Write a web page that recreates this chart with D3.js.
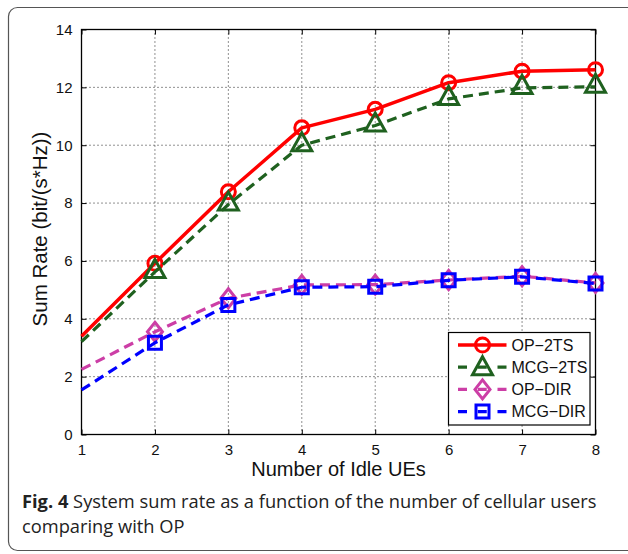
<!DOCTYPE html>
<html>
<head>
<meta charset="utf-8">
<script src="https://cdn.jsdelivr.net/npm/d3@7"></script>
<style>
  html, body { margin: 0; padding: 0; background: #fff; }
  svg { display: block; }
</style>
</head>
<body>
<svg id="fig" width="628" height="554"></svg>
<script>
// Number of idle UEs (x) and sum rate per scheme (bit/(s*Hz))
const idleUEs = [1, 2, 3, 4, 5, 6, 7, 8];
const op2ts  = [3.40, 5.92, 8.39, 10.60, 11.24, 12.16, 12.56, 12.61];
const mcg2ts = [3.21, 5.62, 7.95, 10.00, 10.68, 11.60, 11.98, 12.02];
const opDir  = [2.25, 3.55, 4.71, 5.17, 5.18, 5.34, 5.47, 5.24];
const mcgDir = [1.54, 3.17, 4.48, 5.09, 5.11, 5.33, 5.45, 5.22];
const seriesNames = ["OP\u22122TS", "MCG\u22122TS", "OP\u2212DIR", "MCG\u2212DIR"];
const xTicks = [1, 2, 3, 4, 5, 6, 7, 8];
const yTicks = [0, 2, 4, 6, 8, 10, 12, 14];
const markerStart = 2;   // markers are shown from this x onward

const xLabel = "Number of Idle UEs";
const yLabel = "Sum Rate (bit/(s*Hz))";
const captionBold = "Fig. 4";
const captionLines = [
  " System sum rate as a function of the number of cellular users",
  "comparing with OP"
];

const styles = [
  { color: "#ff0000", dash: null,   width: 3.5, marker: "circle" },
  { color: "#1f611f", dash: "10,6", width: 3.2, marker: "triangle" },
  { color: "#cc3ea6", dash: "10,6", width: 3.2, marker: "diamond" },
  { color: "#0000ff", dash: "10,6", width: 3.2, marker: "square" }
];
const seriesValues = [op2ts, mcg2ts, opDir, mcgDir];

const svg = d3.select("#fig");
const font = "'Liberation Sans', Arial, Helvetica, sans-serif";

// Outer panel frame with rounded corners
svg.append("rect")
  .attr("x", 8.5).attr("y", 7.5)
  .attr("width", 660).attr("height", 543)
  .attr("rx", 9)
  .attr("fill", "none")
  .attr("stroke", "#555").attr("stroke-width", 1.2);

const plot = { left: 81.5, right: 595.5, top: 29.5, bottom: 434.5 };
const x = d3.scaleLinear().domain([1, 8]).range([plot.left, plot.right]);
const y = d3.scaleLinear().domain([0, 14]).range([plot.bottom, plot.top]);

const g = svg.append("g");

// Dotted grid
g.append("g").selectAll("line").data(xTicks.slice(1, -1)).join("line")
  .attr("x1", d => x(d)).attr("x2", d => x(d))
  .attr("y1", plot.top).attr("y2", plot.bottom)
  .attr("stroke", "#222").attr("stroke-width", 1)
  .attr("stroke-dasharray", "1,3");
g.append("g").selectAll("line").data(yTicks.slice(1, -1)).join("line")
  .attr("x1", plot.left).attr("x2", plot.right)
  .attr("y1", d => y(d)).attr("y2", d => y(d))
  .attr("stroke", "#222").attr("stroke-width", 1)
  .attr("stroke-dasharray", "1,3");

// Axes: ticks point inward on all four sides
const tickLen = 5;
const fmt = d3.format("d");
const axisBottom = d3.axisBottom(x).tickValues(xTicks).tickFormat(fmt).tickSizeInner(-tickLen).tickSizeOuter(0).tickPadding(10);
const axisLeft = d3.axisLeft(y).tickValues(yTicks).tickFormat(fmt).tickSizeInner(-tickLen).tickSizeOuter(0).tickPadding(9);
const axisTop = d3.axisTop(x).tickValues(xTicks).tickSizeInner(-tickLen).tickSizeOuter(0).tickFormat("");
const axisRight = d3.axisRight(y).tickValues(yTicks).tickSizeInner(-tickLen).tickSizeOuter(0).tickFormat("");

function styleAxis(sel) {
  sel.attr("font-family", null).attr("font-size", null);
  sel.selectAll(".domain").remove();
  sel.selectAll(".tick line").attr("stroke", "#000").attr("stroke-width", 1);
  sel.selectAll(".tick text").attr("font-family", font).attr("font-size", 15).attr("fill", "#111");
}
g.append("g").attr("transform", `translate(0,${plot.bottom})`).call(axisBottom).call(styleAxis);
g.append("g").attr("transform", `translate(${plot.left},0)`).call(axisLeft).call(styleAxis);
g.append("g").attr("transform", `translate(0,${plot.top})`).call(axisTop).call(styleAxis);
g.append("g").attr("transform", `translate(${plot.right},0)`).call(axisRight).call(styleAxis);

// Axes box
g.append("rect")
  .attr("x", plot.left).attr("y", plot.top)
  .attr("width", plot.right - plot.left).attr("height", plot.bottom - plot.top)
  .attr("fill", "none").attr("stroke", "#000").attr("stroke-width", 1.3);

// Marker shapes (unfilled)
function markerPath(type) {
  switch (type) {
    case "circle": return d3.symbol(d3.symbolCircle, Math.PI * 7 * 7)();
    case "triangle": return "M0,-12.5L10,5.5L-10,5.5Z";
    case "diamond": return "M0,-9.5L7.5,0L0,9.5L-7.5,0Z";
    case "square": return "M-6.5,-6.5H6.5V6.5H-6.5Z";
  }
}

const line = d3.line().x(d => x(d[0])).y(d => y(d[1]));

seriesValues.forEach((vals, i) => {
  const st = styles[i];
  const pts = idleUEs.map((u, j) => [u, vals[j]]);
  const sg = g.append("g");
  sg.append("path")
    .attr("d", line(pts))
    .attr("fill", "none")
    .attr("stroke", st.color)
    .attr("stroke-width", st.width)
    .attr("stroke-dasharray", st.dash)
    .attr("stroke-linejoin", "round");
  sg.selectAll("path.mk").data(pts.filter(p => p[0] >= markerStart)).join("path")
    .attr("class", "mk")
    .attr("d", markerPath(st.marker))
    .attr("transform", d => `translate(${x(d[0])},${y(d[1])})`)
    .attr("fill", "none")
    .attr("stroke", st.color)
    .attr("stroke-width", 3);
});

// Axis titles
svg.append("text")
  .attr("x", (plot.left + plot.right) / 2).attr("y", 476)
  .attr("text-anchor", "middle")
  .attr("font-family", font).attr("font-size", 20).attr("fill", "#111")
  .text(xLabel);
svg.append("text")
  .attr("transform", `translate(47,${(plot.top + plot.bottom) / 2 - 3}) rotate(-90)`)
  .attr("text-anchor", "middle")
  .attr("font-family", font).attr("font-size", 20.5).attr("fill", "#111")
  .text(yLabel);

// Legend
const leg = svg.append("g").attr("transform", "translate(448.5,332.5)");
leg.append("rect").attr("width", 141.5).attr("height", 92.5)
  .attr("fill", "#fff").attr("stroke", "#000").attr("stroke-width", 1.2);
seriesNames.forEach((name, i) => {
  const st = styles[i];
  const cy = 12.5 + i * 22.2;
  leg.append("line")
    .attr("x1", 9.5).attr("x2", 58).attr("y1", cy).attr("y2", cy)
    .attr("stroke", st.color).attr("stroke-width", st.width)
    .attr("stroke-dasharray", st.dash ? "9,10.75" : null);
  leg.append("path")
    .attr("d", markerPath(st.marker))
    .attr("transform", `translate(34,${cy + (st.marker === "triangle" ? 2 : 0)})`)
    .attr("fill", "none")
    .attr("stroke", st.color).attr("stroke-width", 3);
  leg.append("text")
    .attr("x", 63).attr("y", cy + 5.5)
    .attr("font-family", font).attr("font-size", 16).attr("fill", "#111")
    .text(name);
});

// Caption
const capFont = "'Open Sans', 'Noto Sans', sans-serif";
const cap = svg.append("g");
const line1 = cap.append("text").attr("x", 22).attr("y", 508)
  .attr("font-family", capFont).attr("font-size", 16).attr("fill", "#222");
line1.append("tspan").attr("font-weight", "bold").text(captionBold);
line1.append("tspan").text(captionLines[0]);
const line2 = cap.append("text").attr("x", 22).attr("y", 533)
  .attr("font-family", capFont).attr("font-size", 16).attr("fill", "#222")
  .text(captionLines[1]);
// size the caption so the first line spans the text column
const w = line1.node().getComputedTextLength();
const fs = 16 * 575 / w;
line1.attr("font-size", fs);
line2.attr("font-size", fs);
</script>
</body>
</html>
